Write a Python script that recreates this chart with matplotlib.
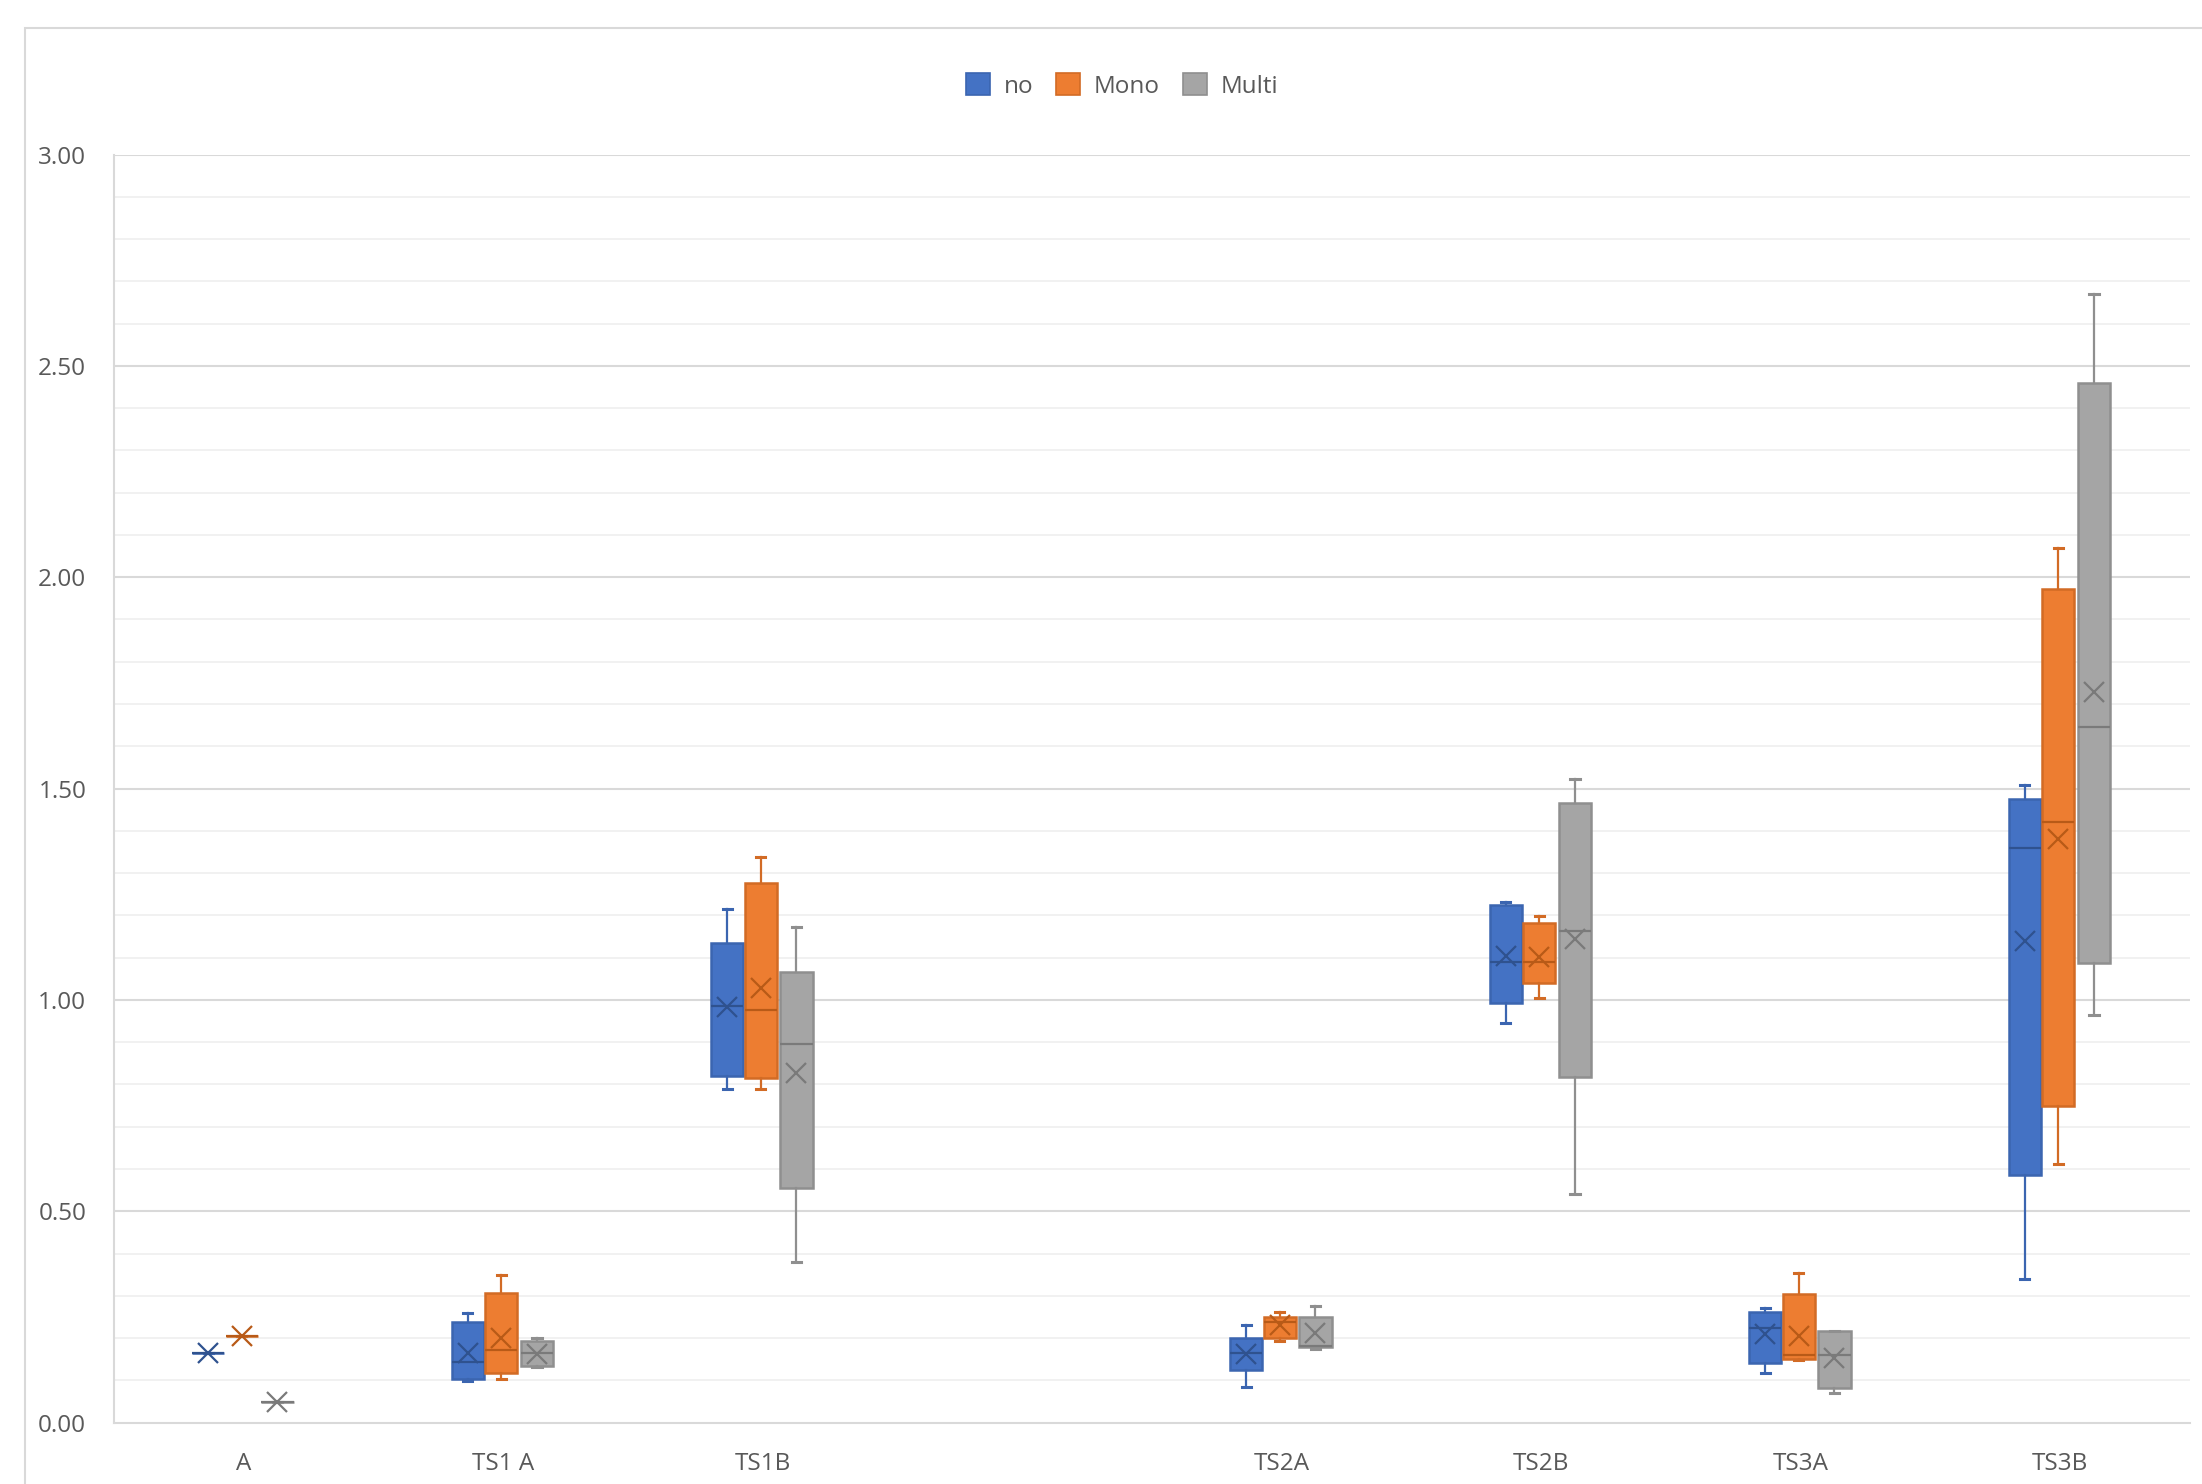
import matplotlib
matplotlib.use("Agg")
import matplotlib.pyplot as plt
from matplotlib.patches import Patch, Rectangle
import numpy as np

plt.rcParams['font.family'] = ['Open Sans', 'DejaVu Sans']

categories = ["A", "TS1 A", "TS1B", "", "TS2A", "TS2B", "TS3A", "TS3B"]
series_names = ["no", "Mono", "Multi"]

# per category: whisker low, q1, median, q3, whisker high, mean  (None = no data)
no_lo   = [0.164, 0.098, 0.789, None, 0.085, 0.946, 0.118, 0.340]
no_q1   = [0.164, 0.102, 0.820, None, 0.124, 0.993, 0.142, 0.586]
no_med  = [0.164, 0.143, 0.985, None, 0.165, 1.090, 0.223, 1.360]
no_q3   = [0.164, 0.237, 1.134, None, 0.201, 1.225, 0.262, 1.475]
no_hi   = [0.164, 0.260, 1.216, None, 0.232, 1.232, 0.272, 1.508]
no_mean = [0.164, 0.165, 0.983, None, 0.163, 1.104, 0.209, 1.140]

mono_lo   = [0.206, 0.103, 0.789, None, 0.194, 1.004, 0.147, 0.612]
mono_q1   = [0.206, 0.118, 0.816, None, 0.201, 1.041, 0.150, 0.749]
mono_med  = [0.206, 0.172, 0.976, None, 0.238, 1.090, 0.160, 1.422]
mono_q3   = [0.206, 0.306, 1.276, None, 0.250, 1.181, 0.305, 1.972]
mono_hi   = [0.206, 0.349, 1.339, None, 0.261, 1.199, 0.354, 2.070]
mono_mean = [0.206, 0.200, 1.029, None, 0.232, 1.102, 0.206, 1.380]

multi_lo   = [0.048, 0.131, 0.381, None, 0.175, 0.541, 0.071, 0.964]
multi_q1   = [0.048, 0.133, 0.554, None, 0.179, 0.818, 0.081, 1.088]
multi_med  = [0.048, 0.165, 0.896, None, 0.182, 1.163, 0.160, 1.645]
multi_q3   = [0.048, 0.193, 1.065, None, 0.250, 1.465, 0.217, 2.460]
multi_hi   = [0.048, 0.201, 1.173, None, 0.276, 1.522, 0.217, 2.669]
multi_mean = [0.048, 0.163, 0.826, None, 0.213, 1.143, 0.152, 1.729]

series_data = [
    (no_lo, no_q1, no_med, no_q3, no_hi, no_mean),
    (mono_lo, mono_q1, mono_med, mono_q3, mono_hi, mono_mean),
    (multi_lo, multi_q1, multi_med, multi_q3, multi_hi, multi_mean),
]

fills = ["#4472C4", "#ED7D31", "#A5A5A5"]
edges = ["#3B65B0", "#D26B25", "#8F8F8F"]
darks = ["#2F528F", "#B85A17", "#7A7A7A"]
offsets = [-0.137, -0.008, 0.130]
box_w = 0.124

W, H = 2202, 1484
fig = plt.figure(figsize=(W / 100, H / 100), dpi=100)

# chart border
fig.add_artist(Rectangle((25 / W, -0.05), 1.2, 1 - 28 / H + 0.05, transform=fig.transFigure,
                         fill=False, edgecolor="#D9D9D9", linewidth=1.5))

ax = fig.add_axes([114 / W, (H - 1422.6) / H, (2190 - 114) / W, (1422.6 - 154.5) / H])
ax.set_xlim(-0.5, len(categories) - 0.5)
ax.set_ylim(0, 3.0)

# gridlines
for v in np.arange(0.1, 3.01, 0.1):
    major = abs(v / 0.5 - round(v / 0.5)) < 1e-6
    ax.axhline(v, color="#D9D9D9" if major else "#EFEFEF", lw=1.5 if major else 1.2, zorder=0)

for s, (lo, q1, med, q3, hi, mean) in enumerate(series_data):
    stats, pos = [], []
    for i in range(len(categories)):
        if med[i] is None:
            continue
        stats.append(dict(whislo=lo[i], q1=q1[i], med=med[i], q3=q3[i], whishi=hi[i],
                          mean=mean[i], fliers=[]))
        pos.append(i + offsets[s])
    ax.bxp(stats, positions=pos, widths=box_w, patch_artist=True, showmeans=True,
           capwidths=0.035, manage_ticks=False,
           boxprops=dict(facecolor=fills[s], edgecolor=edges[s], linewidth=1.8),
           medianprops=dict(color=darks[s], linewidth=1.6),
           whiskerprops=dict(color=edges[s], linewidth=1.6),
           capprops=dict(color=edges[s], linewidth=2.2),
           meanprops=dict(marker="x", markersize=14, markeredgewidth=1.6,
                          markeredgecolor=darks[s], markerfacecolor="none"),
           zorder=3)

ax.set_xticks(range(len(categories)))
ax.set_xticklabels(categories)
ax.set_yticks(np.arange(0, 3.01, 0.5))
ax.set_yticklabels([f"{v:.2f}" for v in np.arange(0, 3.01, 0.5)])
ax.tick_params(axis="both", length=0, labelsize=17.5, labelcolor="#595959")
ax.tick_params(axis="x", pad=21)
ax.tick_params(axis="y", pad=20)

for sp in ["top", "right"]:
    ax.spines[sp].set_visible(False)
for sp in ["left", "bottom"]:
    ax.spines[sp].set_color("#D9D9D9")
    ax.spines[sp].set_linewidth(1.5)

handles = [Patch(facecolor=fills[k], edgecolor=edges[k], linewidth=1.2) for k in range(3)]
fig.legend(handles, series_names, loc="center", bbox_to_anchor=(1122 / W, 1 - 86 / H),
           ncol=3, frameon=False, fontsize=17.5, labelcolor="#595959",
           handlelength=1.0, handleheight=1.0, handletextpad=0.55, columnspacing=0.95)

fig.savefig("out.png", dpi=100, facecolor="white")
